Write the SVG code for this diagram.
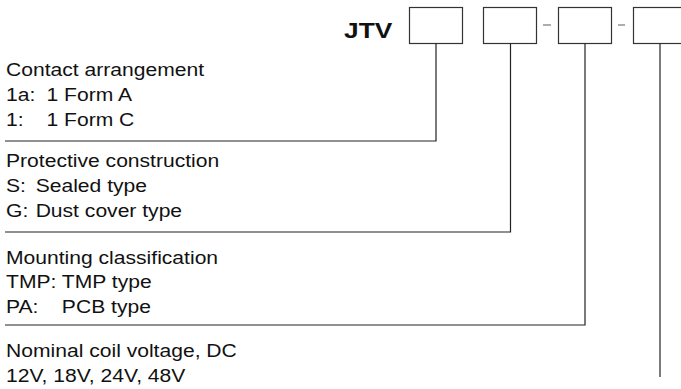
<svg xmlns="http://www.w3.org/2000/svg" width="681" height="389" viewBox="0 0 681 389">
<style>
.t{font-family:"Liberation Sans",Arial,sans-serif;font-size:18.5px;fill:#111}
.b{font-family:"Liberation Sans",Arial,sans-serif;font-size:22.5px;font-weight:bold;fill:#111}
.box{fill:#fff;stroke:#333;stroke-width:1.2}
.ln{fill:none;stroke:#222;stroke-width:1.2}
.dash{stroke:#777;stroke-width:1.2}
</style>
<rect width="681" height="389" fill="#fff"/>
<g id="code">
<text class="b" transform="translate(344,38) scale(1.17,1)">JTV</text>
<rect id="box1" class="box" x="409.5" y="7.5" width="53" height="36"/>
<rect id="box2" class="box" x="483.5" y="7.5" width="53" height="36"/>
<line class="dash" x1="543" y1="25" x2="551" y2="25"/>
<rect id="box3" class="box" x="558.5" y="7.5" width="53" height="36"/>
<line class="dash" x1="618" y1="25" x2="625" y2="25"/>
<rect id="box4" class="box" x="633.5" y="7.5" width="54" height="36"/>
</g>
<g id="connectors">
<polyline class="ln" points="436,43.5 436,141 5,141"/>
<polyline class="ln" points="510.5,43.5 510.5,232 5,232"/>
<polyline class="ln" points="585,43.5 585,325 5,325"/>
<polyline class="ln" points="660,43.5 660,377"/>
</g>
<g id="contact" transform="translate(6,0) scale(1.14,1)">
<text class="t" x="0" y="76">Contact arrangement</text>
<text class="t" y="101"><tspan x="0">1a:</tspan><tspan x="35.5">1 Form A</tspan></text>
<text class="t" y="126"><tspan x="0">1:</tspan><tspan x="35.5">1 Form C</tspan></text>
</g>
<g id="protective" transform="translate(6,0) scale(1.14,1)">
<text class="t" x="0" y="167">Protective construction</text>
<text class="t" y="192"><tspan x="0">S:</tspan><tspan x="26">Sealed type</tspan></text>
<text class="t" y="217"><tspan x="0">G:</tspan><tspan x="26">Dust cover type</tspan></text>
</g>
<g id="mounting" transform="translate(6,0) scale(1.14,1)">
<text class="t" x="0" y="264">Mounting classification</text>
<text class="t" y="288"><tspan x="0">TMP:</tspan><tspan x="49">TMP type</tspan></text>
<text class="t" y="313"><tspan x="0">PA:</tspan><tspan x="49">PCB type</tspan></text>
</g>
<g id="voltage" transform="translate(6,0) scale(1.14,1)">
<text class="t" x="0" y="357">Nominal coil voltage, DC</text>
<text class="t" x="0" y="382">12V, 18V, 24V, 48V</text>
</g>
</svg>
